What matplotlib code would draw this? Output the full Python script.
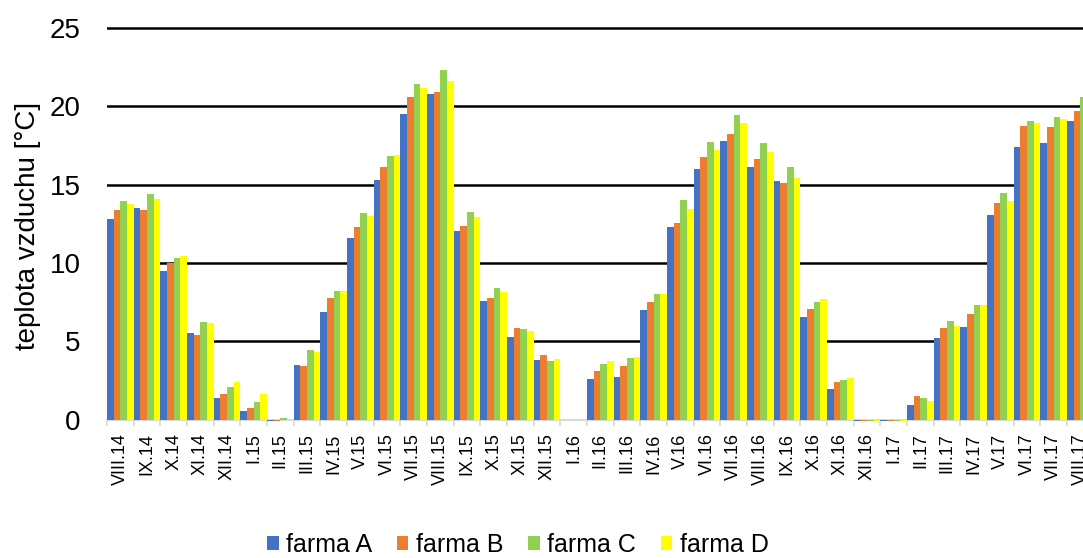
import numpy as np
import matplotlib
matplotlib.use("Agg")
import matplotlib.pyplot as plt

plt.rcParams['font.family'] = ['Liberation Sans', 'DejaVu Sans']

# monthly mean air temperature per farm
months = ["VIII.14", "IX.14", "X.14", "XI.14", "XII.14",
          "I.15", "II.15", "III.15", "IV.15", "V.15", "VI.15", "VII.15", "VIII.15",
          "IX.15", "X.15", "XI.15", "XII.15",
          "I.16", "II.16", "III.16", "IV.16", "V.16", "VI.16", "VII.16", "VIII.16",
          "IX.16", "X.16", "XI.16", "XII.16",
          "I.17", "II.17", "III.17", "IV.17", "V.17", "VI.17", "VII.17", "VIII.17"]

farma_a = [12.8, 13.5, 9.5, 5.5, 1.35, 0.54, -0.1, 3.5, 6.86, 11.57, 15.3, 19.5, 20.8,
           12.06, 7.57, 5.3, 3.78, -0.05, 2.6, 2.7, 7.0, 12.3, 15.98, 17.78, 16.14,
           15.2, 6.53, 1.93, -0.1, -0.1, 0.93, 5.18, 5.9, 13.08, 17.42, 17.64, 19.08]
farma_b = [13.38, 13.38, 9.97, 5.37, 1.61, 0.73, -0.1, 3.44, 7.74, 12.31, 16.14, 20.6, 20.9,
           12.38, 7.78, 5.84, 4.12, -0.05, 3.1, 3.44, 7.48, 12.53, 16.76, 18.23, 16.63,
           15.08, 7.04, 2.37, -0.1, -0.1, 1.5, 5.84, 6.72, 13.81, 18.74, 18.7, 19.72]
farma_c = [13.95, 14.38, 10.31, 6.2, 2.1, 1.12, 0.12, 4.44, 8.21, 13.19, 16.83, 21.4, 22.34,
           13.25, 8.4, 5.78, 3.74, -0.05, 3.54, 3.91, 8.03, 14.02, 17.74, 19.42, 17.64,
           16.12, 7.5, 2.5, -0.1, -0.1, 1.35, 6.27, 7.31, 14.48, 19.08, 19.32, 20.61]
farma_d = [13.76, 14.08, 10.46, 6.18, 2.37, 1.65, 0.0, 4.31, 8.21, 13.02, 16.91, 21.2, 21.6,
           12.95, 8.12, 5.67, 3.84, -0.05, 3.71, 3.99, 8.03, 13.42, 17.19, 18.93, 17.08,
           15.42, 7.68, 2.65, -0.1, -0.1, 1.18, 6.0, 7.31, 13.95, 18.95, 19.17, 20.3]

series = [("farma A", farma_a, "#4472C4"),
          ("farma B", farma_b, "#ED7D31"),
          ("farma C", farma_c, "#92D050"),
          ("farma D", farma_d, "#FFFF00")]

fig = plt.figure(figsize=(10.83, 5.58), dpi=100)
ax = fig.add_axes([0.0988, 0.2482, 0.9111, 0.7030])

x = np.arange(len(months))
w = 0.25
for i, (name, vals, col) in enumerate(series):
    ax.bar(x + (i - 1.5) * w, vals, width=w, color=col, label=name,
           edgecolor="none", zorder=3, clip_on=False)

ax.set_xlim(-0.5, len(months) - 0.5)
ax.set_ylim(0, 25.05)
ax.set_yticks([0, 5, 10, 15, 20, 25])
ax.tick_params(axis="y", length=0, pad=19, labelsize=20)

ax.set_xticks(x)
ax.set_xticklabels(months, rotation=90, fontsize=13, va="top")
ax.set_xticks(np.arange(len(months) + 1) - 0.5, minor=True)
ax.tick_params(axis="x", which="major", length=0, pad=10)
ax.tick_params(axis="x", which="minor", length=4, width=1.2, color="#d9d9d9")

ax.yaxis.grid(True, color="black", linewidth=1.8, zorder=0)
ax.set_axisbelow(True)
ax.get_ygridlines()[0].set_visible(False)

for s in ["top", "right", "left"]:
    ax.spines[s].set_visible(False)
ax.spines["bottom"].set_color("#d9d9d9")
ax.spines["bottom"].set_linewidth(1.5)

ax.set_ylabel("teplota vzduchu [°C]", fontsize=20, va="center")
ax.yaxis.set_label_coords(-0.08, 0.494)

fig.legend(loc="center", bbox_to_anchor=(518 / 1083, 13 / 558), ncol=4,
           frameon=False, fontsize=18, handlelength=0.45, handleheight=0.45,
           handletextpad=0.3, columnspacing=1.0)

fig.savefig("out.png", dpi=100)
